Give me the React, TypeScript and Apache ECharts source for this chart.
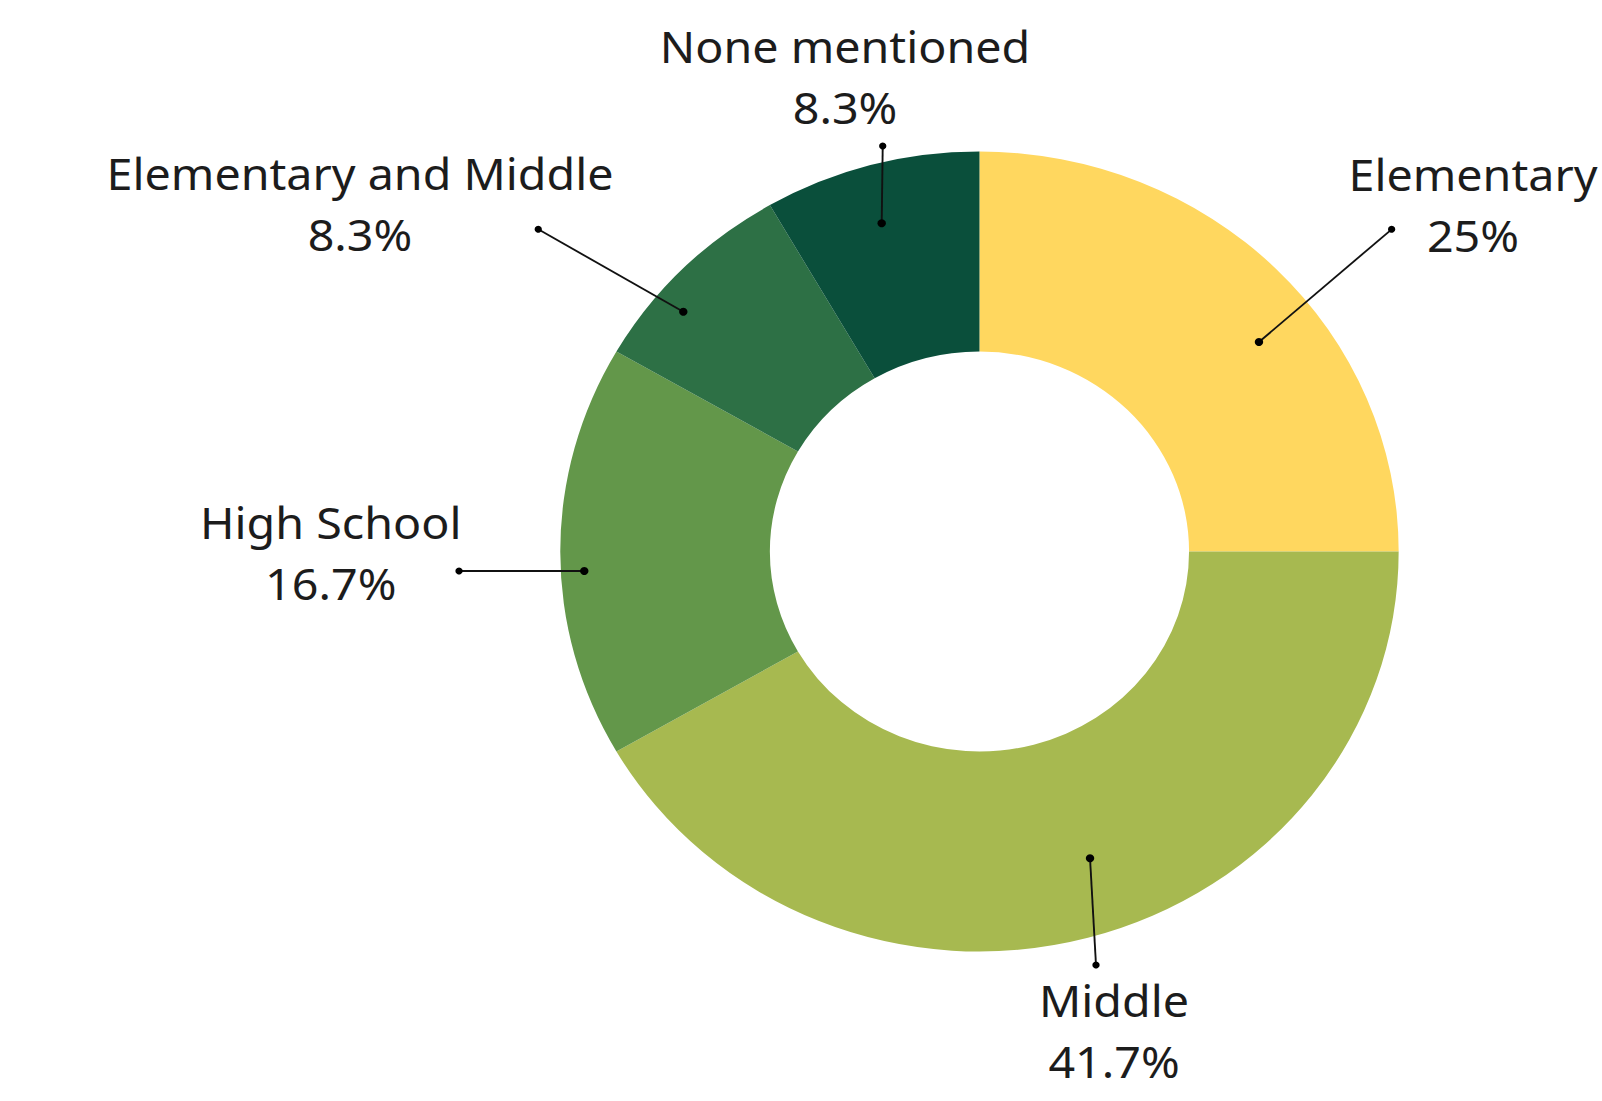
import React, { useEffect, useRef } from "react";
import * as echarts from "echarts";

// ---- data ----
const categories = ["Elementary", "Middle", "High School", "Elementary and Middle", "None mentioned"];
const responseCounts = [3, 5, 2, 1, 1]; // 25%, 41.7%, 16.7%, 8.3%, 8.3%

// ---- styles ----
const sliceColors = ["#FFD75F", "#A7B950", "#63974A", "#2D7045", "#0A4F3B"];
const FONT = "'Noto Sans', 'Open Sans', sans-serif";
const TEXT_COLOR = "#1c1c1c";

// ---- layout ----
const STRETCH = 1.048; // reference is slightly stretched horizontally
const CHART_W = Math.round(1602 / STRETCH);
const CHART_H = 1101;
const CENTER = [934.6, 551.5];
const RADII = [200, 400];

// leader-line anchors and label centres, offsets from the pie centre
const labelAnchors = [
  { inner: [266.7, -209.5], outer: [393.3, -322.2], text: [470.9, -347.5] },
  { inner: [105.5, 306.8], outer: [111.2, 413.5], text: [128.4, 478.5] },
  { inner: [-377.1, 19.5], outer: [-496.6, 19.5], text: [-619, 0.5] },
  { inner: [-282.6, -239.8], outer: [-421, -322.2], text: [-591.1, -348.5] },
  { inner: [-93.3, -328.2], outer: [-92.3, -405.5], text: [-128.3, -475.5] },
];

export default function App() {
  const ref = useRef<HTMLDivElement>(null);

  useEffect(() => {
    document.body.style.margin = "0";
    if (!ref.current) return;
    const chart = echarts.init(ref.current, null, { renderer: "svg" });

    const [cx, cy] = CENTER;
    const graphics: any[] = [];
    labelAnchors.forEach((a) => {
      const x1 = cx + a.inner[0];
      const y1 = cy + a.inner[1];
      const x2 = cx + a.outer[0];
      const y2 = cy + a.outer[1];
      graphics.push({
        type: "line",
        silent: true,
        z: 100,
        shape: { x1, y1, x2, y2 },
        style: { stroke: "#111", lineWidth: 1.8 },
      });
      graphics.push({
        type: "circle",
        silent: true,
        z: 101,
        shape: { cx: x1, cy: y1, r: 4 },
        style: { fill: "#000" },
      });
      graphics.push({
        type: "circle",
        silent: true,
        z: 101,
        shape: { cx: x2, cy: y2, r: 3.5 },
        style: { fill: "#000" },
      });
    });

    chart.setOption({
      animation: false,
      backgroundColor: "#ffffff",
      graphic: graphics,
      series: [
        {
          type: "pie",
          center: CENTER,
          radius: RADII,
          startAngle: 90,
          clockwise: true,
          avoidLabelOverlap: false,
          percentPrecision: 1,
          minShowLabelAngle: 0,
          silent: true,
          emphasis: { disabled: true },
          itemStyle: { borderWidth: 0 },
          data: categories.map((name, i) => ({
            name,
            value: responseCounts[i],
            itemStyle: { color: sliceColors[i] },
          })),
          label: {
            show: true,
            position: "outside",
            formatter: "{b}\n{d}%",
            fontFamily: FONT,
            fontSize: 44.5,
            lineHeight: 61,
            color: TEXT_COLOR,
            align: "center",
          },
          labelLine: { show: false },
          labelLayout: (p: any) => {
            const a = labelAnchors[p.dataIndex];
            return {
              x: cx + a.text[0],
              y: cy + a.text[1],
              align: "center",
              verticalAlign: "middle",
            };
          },
        },
      ],
    });

    return () => {
      chart.dispose();
    };
  }, []);

  return (
    <div
      ref={ref}
      style={{
        position: "absolute",
        left: 0,
        top: 0,
        width: CHART_W,
        height: CHART_H,
        transform: `scaleX(${STRETCH})`,
        transformOrigin: "0 0",
      }}
    />
  );
}
